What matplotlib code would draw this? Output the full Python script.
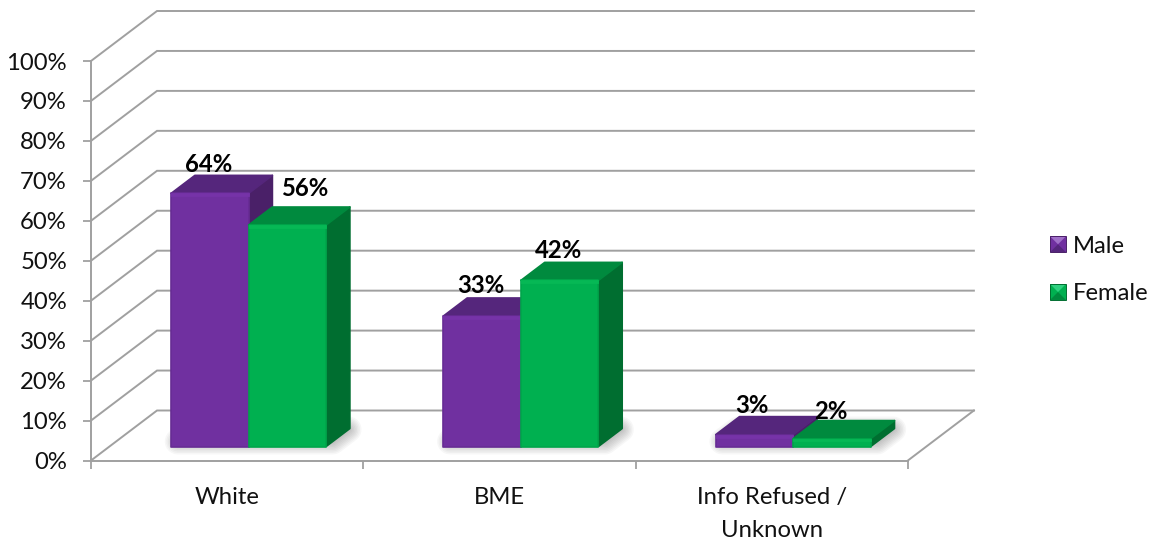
import matplotlib
matplotlib.use("Agg")
import matplotlib.pyplot as plt
from matplotlib.patches import Polygon
from matplotlib.legend_handler import HandlerBase

categories = ["White", "BME", "Info Refused /\nUnknown"]
male = [64, 33, 3]
female = [56, 42, 2]
series_names = ["Male", "Female"]
y_ticks = [0, 10, 20, 30, 40, 50, 60, 70, 80, 90, 100]

W, H = 1158, 539
PX_CAT, PX_PCT = 272.3, 3.995
X0_PX, Y0_PX = 91.0, 460.5
DX, DY = 66 / PX_CAT, 50 / PX_PCT        # depth of the floor in data units
D_FRONT, D_BACK = 0.28, 0.64             # bar depth range
BAR_W = 77.5 / PX_CAT
BAR_SHIFT = 3 / PX_CAT
BAR_SCALE = 0.99
GREY = "#a0a0a0"
FONT = "Lato"
FS = 17.2

COL = {
    "Male": dict(front="#7030a0", top="#55267c", side="#4a2068", hi="#7633a8", edge="#672c94"),
    "Female": dict(front="#00b050", top="#008a3e", side="#006e30", hi="#06b855", edge="#00a64b"),
}

plt.rcParams["font.family"] = [FONT, "DejaVu Sans"]
fig = plt.figure(figsize=(W / 100, H / 100), dpi=100)
ax = fig.add_axes([0, 0, 1, 1])
ax.set_xlim(-X0_PX / PX_CAT, (W - X0_PX) / PX_CAT)
ax.set_ylim((Y0_PX - H) / PX_PCT, Y0_PX / PX_PCT)
ax.patch.set_alpha(0)


def proj(x, y, d):
    return x + d * DX, y + d * DY


# walls and floor
n = len(categories)
for v in y_ticks:
    pts = [proj(0, v, 0), proj(0, v, 1), proj(n, v, 1)]
    ax.plot(*zip(*pts), color=GREY, lw=1.4, zorder=1, solid_joinstyle="miter")
ax.plot(*zip(proj(n, 0, 1), proj(n, 0, 0)), color=GREY, lw=1.4, zorder=1)

# axes
for s in ("top", "right"):
    ax.spines[s].set_visible(False)
ax.spines["left"].set_position(("data", 0))
ax.spines["bottom"].set_position(("data", 0))
ax.spines["left"].set_bounds(0, 100)
ax.spines["bottom"].set_bounds(0, n)
for s in ("left", "bottom"):
    ax.spines[s].set_color(GREY)
    ax.spines[s].set_linewidth(1.4)
    ax.spines[s].set_zorder(1.5)
ax.set_yticks(y_ticks)
ax.set_yticklabels([f"{v}%" for v in y_ticks], fontsize=FS, color="#111111")
ax.tick_params(axis="y", direction="out", length=5.8, width=1.3, color=GREY, pad=11.5)
ax.set_xticks(list(range(n + 1)))
ax.set_xticklabels([""] * (n + 1))
ax.tick_params(axis="x", which="major", direction="out", length=5.8, width=1.3, color=GREY)
ax.set_xticks([i + 0.5 for i in range(n)], minor=True)
ax.set_xticklabels(categories, minor=True, fontsize=FS, color="#111111", linespacing=1.7)
ax.tick_params(axis="x", which="minor", length=0, pad=19)


def shadow(x0, x1, d0, d1):
    poly = [proj(x0, 0, d0), proj(x1, 0, d0), proj(x1, 0, d1), proj(x0, 0, d1)]
    for lw in range(26, 0, -3):
        ax.add_patch(Polygon(poly, closed=True, fill=False, ec="#000000", lw=lw * 0.72,
                             alpha=0.03, joinstyle="round", zorder=2))


def bar(x0, x1, val, c):
    h = val * BAR_SCALE
    bot, top = 0, h
    f = lambda x, y: proj(x, y, D_FRONT)
    b = lambda x, y: proj(x, y, D_BACK)
    kw = dict(closed=True, joinstyle="round", lw=1.2, zorder=3)
    ax.add_patch(Polygon([f(x1, bot), f(x1, top), b(x1, top), b(x1, bot)],
                         fc=c["side"], ec=c["side"], **kw))
    ax.add_patch(Polygon([f(x0, top), f(x1, top), b(x1, top), b(x0, top)],
                         fc=c["top"], ec=c["top"], **kw))
    ax.add_patch(Polygon([f(x0, bot), f(x1, bot), f(x1, top), f(x0, top)],
                         fc=c["front"], ec=c["edge"], **kw))
    strip = min(0.75, h * 0.25)
    ax.add_patch(Polygon([f(x0, top - strip), f(x1, top - strip), f(x1, top), f(x0, top)],
                         fc=c["hi"], ec=c["hi"], closed=True, joinstyle="round", lw=0.6, zorder=3))


# bars, shadows first
for i in range(n):
    c = i + 0.5 + BAR_SHIFT
    shadow(c - BAR_W, c + BAR_W, D_FRONT + 0.1, D_BACK - 0.02)
for i in range(n):
    c = i + 0.5 + BAR_SHIFT
    bar(c - BAR_W, c, male[i], COL["Male"])
    bar(c, c + BAR_W, female[i], COL["Female"])

# data labels
offs_m = [(-1, 29), (-1.5, 30), (-2.5, 29)]
offs_f = [(17, 37), (-1.5, 30), (-1.5, 27)]
for i in range(n):
    c = i + 0.5 + BAR_SHIFT
    for val, xc, off in ((male[i], c - BAR_W / 2, offs_m[i]), (female[i], c + BAR_W / 2, offs_f[i])):
        xy = proj(xc, val * BAR_SCALE, D_FRONT)
        ax.annotate(f"{val}%", xy, xytext=(off[0] * 0.72, off[1] * 0.72), textcoords="offset points",
                    ha="center", va="center", fontsize=FS, fontweight="bold", color="#000000", zorder=6)


class Pyramid(HandlerBase):
    def __init__(self, c):
        super().__init__()
        self.c = c

    def create_artists(self, legend, orig, xd, yd, w, h, fontsize, trans):
        s = 11.4
        x0, y0 = xd * -1 + (w - s) / 2, -yd + (h - s) / 2
        cx, cy = x0 + s / 2, y0 + s / 2
        x1, y1 = x0 + s, y0 + s
        c = self.c
        parts = [
            ([(x0, y0), (x1, y0), (x1, y1), (x0, y1)], c["front"]),
            ([(x0, y1), (x1, y1), (cx, cy)], "#a070c8" if c is COL["Male"] else "#30d080"),
            ([(x0, y0), (x1, y0), (cx, cy)], c["top"]),
        ]
        out = []
        for pts, col in parts:
            out.append(Polygon(pts, closed=True, fc=col, ec="none", transform=trans))
        out.append(Polygon(parts[0][0], closed=True, fc="none", ec=c["side"], lw=0.7, transform=trans))
        return out


h_m = Polygon([(0, 0)], label=series_names[0])
h_f = Polygon([(0, 0)], label=series_names[1])
leg = ax.legend(handles=[h_m, h_f], loc="center left", bbox_to_anchor=(1050 / W, 1 - 270 / H),
                bbox_transform=ax.transAxes, frameon=False, fontsize=FS, labelcolor="#111111",
                handler_map={h_m: Pyramid(COL["Male"]), h_f: Pyramid(COL["Female"])},
                handlelength=0.67, handleheight=0.7, handletextpad=0.3, labelspacing=1.12,
                borderpad=0, borderaxespad=0)
leg.set_zorder(7)

fig.savefig("out.png", dpi=100)
